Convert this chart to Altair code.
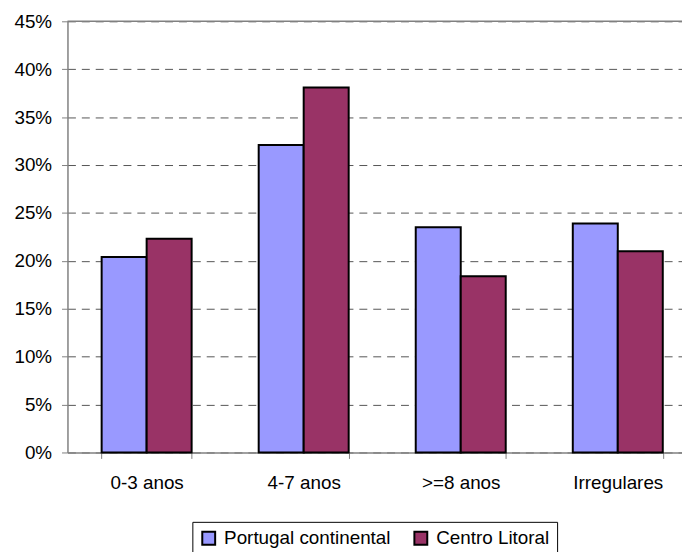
import altair as alt
import pandas as pd

categories = ["0-3 anos", "4-7 anos", ">=8 anos", "Irregulares"]
series = ["Portugal continental", "Centro Litoral"]
portugal = [0.204, 0.321, 0.235, 0.239]
centro = [0.223, 0.381, 0.184, 0.210]
y_ticks = [0, 0.05, 0.10, 0.15, 0.20, 0.25, 0.30, 0.35, 0.40, 0.45]
colors = ["#9999FF", "#993366"]

rows = []
for c, p, v in zip(categories, portugal, centro):
    rows.append({"cat": c, "series": series[0], "value": p})
    rows.append({"cat": c, "series": series[1], "value": v})
df = pd.DataFrame(rows)

font = "Liberation Sans"

bars = alt.Chart(df).mark_bar(stroke="black", strokeWidth=2).encode(
    x=alt.X(
        "cat:N",
        sort=categories,
        scale=alt.Scale(paddingInner=0.427, paddingOuter=0.17, align=0.64),
        axis=alt.Axis(
            title=None, labelAngle=0, tickBand="extent", labelFont=font,
            labelFontSize=19, labelColor="black", labelPadding=15,
            tickSize=6, tickColor="#808080", domainColor="#808080",
            domainWidth=1.5,
        ),
    ),
    xOffset=alt.XOffset("series:N", sort=series,
                        scale=alt.Scale(paddingInner=0, paddingOuter=0)),
    y=alt.Y(
        "value:Q",
        scale=alt.Scale(domain=[0, 0.45], nice=False),
        axis=alt.Axis(
            title=None, format=".0%", values=y_ticks, grid=True,
            gridDash=[8, 6], gridColor="#555555", gridWidth=1,
            labelFont=font, labelFontSize=19, labelColor="black",
            labelPadding=10, tickSize=6, tickColor="#808080",
            domainColor="#808080", domainWidth=1.5,
        ),
    ),
    color=alt.Color(
        "series:N",
        sort=series,
        scale=alt.Scale(domain=series, range=colors),
        legend=alt.Legend(
            title=None, orient="none", legendX=126, legendY=505,
            direction="horizontal", symbolType="square", symbolSize=169,
            symbolStrokeColor="black", symbolStrokeWidth=2,
            symbolOpacity=1, labelFont=font, labelFontSize=19,
            labelColor="black", labelOffset=6, columnPadding=20,
            labelLimit=400,
            strokeColor="black", fillColor="white", padding=7,
        ),
    ),
)

top = alt.Chart(pd.DataFrame({"v": [0.45]})).mark_rule(
    color="#808080", strokeWidth=1.5
).encode(y=alt.Y("v:Q", title=None))

chart = alt.layer(bars, top).properties(
    width=620,
    height=435,
    padding={"left": 60, "top": 11, "right": 0, "bottom": 98},
    autosize=alt.AutoSizeParams(type="none"),
).configure_view(stroke=None)

chart.save("out.html", embed_options={"renderer": "svg", "actions": False})
